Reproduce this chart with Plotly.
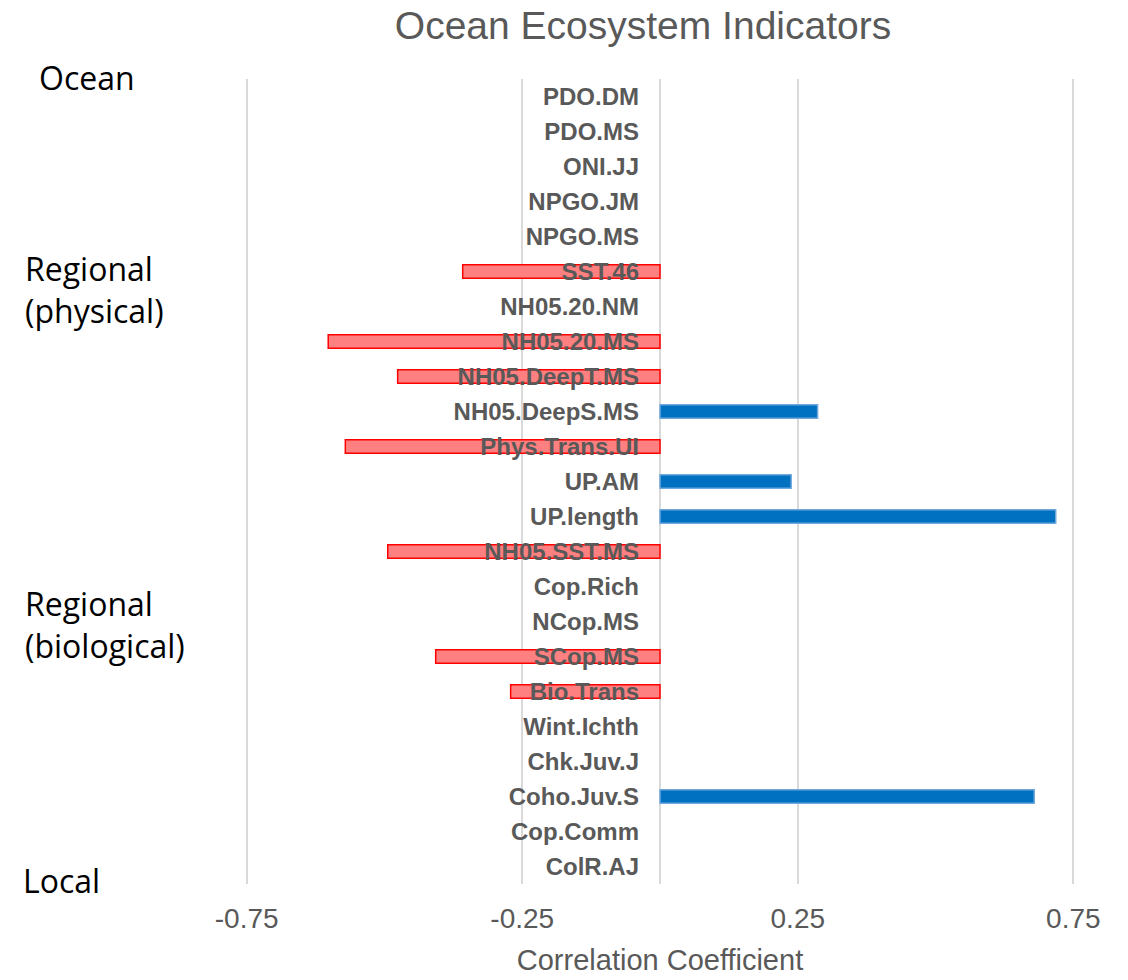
import plotly.graph_objects as go

# Indicator names, top to bottom
indicators = [
    "PDO.DM", "PDO.MS", "ONI.JJ", "NPGO.JM", "NPGO.MS", "SST.46",
    "NH05.20.NM", "NH05.20.MS", "NH05.DeepT.MS", "NH05.DeepS.MS",
    "Phys.Trans.UI", "UP.AM", "UP.length", "NH05.SST.MS", "Cop.Rich",
    "NCop.MS", "SCop.MS", "Bio.Trans", "Wint.Ichth", "Chk.Juv.J",
    "Coho.Juv.S", "Cop.Comm", "ColR.AJ",
]

# Correlation coefficients (None = not shown)
correlations = [
    None, None, None, None, None, -0.358,
    None, -0.602, -0.476, 0.286,
    -0.571, 0.238, 0.718, -0.494, None,
    None, -0.407, -0.271, None, None,
    0.679, None, None,
]

# Scale/tick settings
x_min, x_max = -0.75, 0.75
tick_values = [-0.75, -0.25, 0.25, 0.75]
tick_labels = ["-0.75", "-0.25", "0.25", "0.75"]

# Group labels down the left side
group_labels = ["Ocean", "Regional<br>(physical)", "Regional<br>(biological)", "Local"]

W, H = 1128, 980
M_L, M_R, M_T, M_B = 245, 53, 79, 96
PLOT_W = W - M_L - M_R
PLOT_H = H - M_T - M_B
PAD = 0.003  # keeps the edge gridlines inside the drawn range

POS_FILL, POS_LINE = "#0070C0", "#6FA8DC"
NEG_FILL, NEG_LINE = "#FF8080", "#FF0000"
GRAY = "#595959"
GRID = "#D9D9D9"
FONT = "Liberation Sans, Arial, sans-serif"

fill_colors = [POS_FILL if (v is not None and v >= 0) else NEG_FILL for v in correlations]
line_colors = [POS_LINE if (v is not None and v >= 0) else NEG_LINE for v in correlations]

fig = go.Figure(
    go.Bar(
        x=correlations,
        y=indicators,
        orientation="h",
        width=0.38,
        marker=dict(color=fill_colors, line=dict(color=line_colors, width=1.5)),
        hoverinfo="x+y",
    )
)


def px_to_paper_x(px):
    return (px - M_L) / PLOT_W


def px_to_paper_y(py):
    return 1 - (py - M_T) / PLOT_H


# group label placement (left edge x, vertical centre y), in pixels
group_pos = [(37, 78), (23, 289), (23, 624), (21, 880)]
for text, (gx, gy) in zip(group_labels, group_pos):
    fig.add_annotation(
        text=text,
        xref="paper", yref="paper",
        x=px_to_paper_x(gx), y=px_to_paper_y(gy),
        xanchor="left", yanchor="middle", align="left",
        showarrow=False,
        font=dict(family="Open Sans, Noto Sans, sans-serif", size=32, color="#000000"),
    )

fig.update_layout(
    width=W, height=H,
    margin=dict(l=M_L, r=M_R, t=M_T, b=M_B),
    paper_bgcolor="white", plot_bgcolor="white",
    showlegend=False,
    title=dict(
        text="Ocean Ecosystem Indicators",
        x=643 / W, xref="container", xanchor="center",
        y=1 - 25 / H, yref="container", yanchor="middle",
        font=dict(family=FONT, size=39, color=GRAY),
    ),
    xaxis=dict(
        range=[x_min - PAD, x_max + PAD],
        automargin=False,
        tickvals=tick_values, ticktext=tick_labels,
        showgrid=True, gridcolor=GRID, gridwidth=1.5,
        zeroline=True, zerolinecolor=GRID, zerolinewidth=1.5,
        showline=False, ticks="", ticklabelstandoff=15,
        tickfont=dict(family=FONT, size=28, color=GRAY),
        title=dict(text="Correlation Coefficient", standoff=16,
                   font=dict(family=FONT, size=29, color=GRAY)),
    ),
    yaxis=dict(
        type="category",
        automargin=False,
        categoryorder="array", categoryarray=indicators,
        autorange="reversed",
        anchor="free", position=(0 - (x_min - PAD)) / ((x_max + PAD) - (x_min - PAD)),
        showgrid=False, zeroline=False, showline=False,
        ticks="", ticklabelstandoff=21,
        tickfont=dict(family=FONT, size=24, color=GRAY, weight="bold"),
    ),
)

fig.write_html("out.html")
